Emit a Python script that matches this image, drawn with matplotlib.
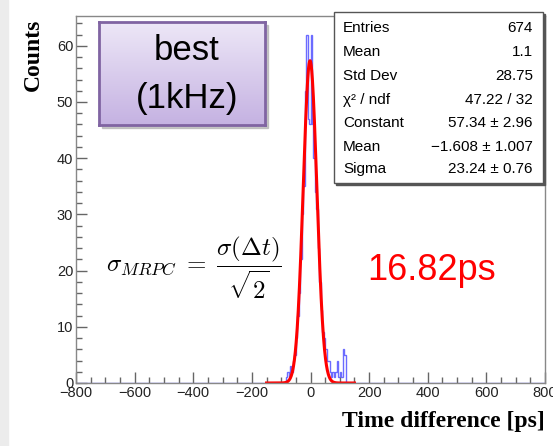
import numpy as np
import matplotlib.pyplot as plt
from matplotlib.patches import Rectangle
from matplotlib.colors import LinearSegmentedColormap

plt.rcParams['mathtext.fontset'] = 'cm'
plt.rcParams['font.family'] = ['Liberation Sans', 'DejaVu Sans']

# histogram: 5 ps bins over [-800, 800], non-empty part starts at -85 ps
bin_width = 5
first_edge = -85
counts = [1, 2, 1, 3, 2, 4, 5, 8, 12, 16, 22, 30, 35, 52, 62, 47, 46, 62, 46, 40,
          34, 31, 24, 18, 13, 9, 8, 6, 4, 4, 2, 1, 2, 1, 2, 4, 1, 2, 1, 6, 5]

# gaussian fit result (range -150..150)
fit_const, fit_mean, fit_sigma = 57.34, -1.608, 23.24
fit_range = (-150, 150)

stat_names = ['Entries', 'Mean', 'Std Dev', 'χ² / ndf', 'Constant', 'Mean', 'Sigma']
stat_values = ['674', '1.1', '28.75', '47.22 / 32', '57.34 ± 2.96',
               '−1.608 ± 1.007', '23.24 ± 0.76']

W, H = 553, 446
fig = plt.figure(figsize=(W / 100, H / 100), dpi=100)

def fx(px):
    return px / W

def fy(py):
    return 1 - py / H

# light gray strip at left edge
fig.add_artist(Rectangle((0, 0), fx(8), 1, transform=fig.transFigure,
                         color='#ececec', zorder=-5))

ax = fig.add_axes([fx(76), fy(383), fx(545 - 76), (383 - 16) / H], zorder=0)

edges = np.arange(-800, 800 + bin_width, bin_width)
full = np.zeros(len(edges) - 1)
i0 = (first_edge + 800) // bin_width
full[i0:i0 + len(counts)] = counts
ax.stairs(full, edges, color='#3a3aff', lw=1.0, alpha=0.75)

xf = np.linspace(fit_range[0], fit_range[1], 600)
yf = fit_const * np.exp(-0.5 * ((xf - fit_mean) / fit_sigma) ** 2)
ax.plot(xf, yf, color='red', lw=2.2)

ax.set_xlim(-800, 800)
ax.set_ylim(0, 65.3)
ax.set_xticks(np.arange(-800, 801, 200))
ax.set_xticks(np.arange(-800, 801, 50), minor=True)
ax.set_yticks(np.arange(0, 61, 10))
ax.set_yticks(np.arange(0, 65, 2), minor=True)
ax.set_xticklabels(['−800', '−600', '−400', '−200', '0', '200', '400', '600', '800'])
ax.tick_params(which='both', direction='in', color='#666666', width=1,
               top=False, right=False)
ax.tick_params(which='major', length=8, labelsize=10.5, labelcolor='#222222', pad=2)
ax.tick_params(which='minor', length=4)
for s in ax.spines.values():
    s.set_color('#888888')
    s.set_linewidth(1)

# label box
shadow = Rectangle((fx(102), fy(128)), fx(166), 103 / H, transform=fig.transFigure,
                   color='#b0b0b0', alpha=0.7, zorder=0.5)
fig.add_artist(shadow)
bax = fig.add_axes([fx(99), fy(125), fx(166), 103 / H], zorder=1)
cmap = LinearSegmentedColormap.from_list('lav', ['#ede7f7', '#c5b2e2'])
bax.imshow(np.linspace(0, 1, 100).reshape(-1, 1), aspect='auto', cmap=cmap,
           extent=[0, 1, 0, 1])
bax.set_xticks([])
bax.set_yticks([])
for s in bax.spines.values():
    s.set_color('#8064a2')
    s.set_linewidth(2)
bax.text(0.53, 0.72, 'best', ha='center', va='center', fontsize=25)
bax.text(0.53, 0.26, '(1kHz)', ha='center', va='center', fontsize=25)

# stats box
fig.add_artist(Rectangle((fx(336), fy(185)), fx(209), 171 / H, transform=fig.transFigure,
                         color='#555555', zorder=1.5))
fig.add_artist(Rectangle((fx(334), fy(183)), fx(209), 171 / H, transform=fig.transFigure,
                         facecolor='white', edgecolor='#555555', lw=1, zorder=1.6))
row_y = [28, 52, 76, 100, 123, 147, 169]
for name, val, y in zip(stat_names, stat_values, row_y):
    fig.text(fx(343), fy(y), name, ha='left', va='center', fontsize=11, zorder=2)
    fig.text(fx(533), fy(y), val, ha='right', va='center', fontsize=11, zorder=2)

fig.text(fx(194), fy(268), r'$\sigma_{MRPC} \;=\; \dfrac{\sigma(\Delta t)}{\sqrt{2}}$',
         ha='center', va='center', fontsize=18)
fig.text(fx(432), fy(270), '16.82ps', color='red', ha='center', va='center', fontsize=26)

fig.text(fx(33), fy(55), 'Counts', rotation=90, ha='center', va='center',
         fontsize=17, fontweight='bold', family='Liberation Serif')
fig.text(fx(545), fy(421), 'Time difference [ps]', ha='right', va='center',
         fontsize=17, fontweight='bold', family='Liberation Serif')

fig.savefig('out.png', dpi=100)
